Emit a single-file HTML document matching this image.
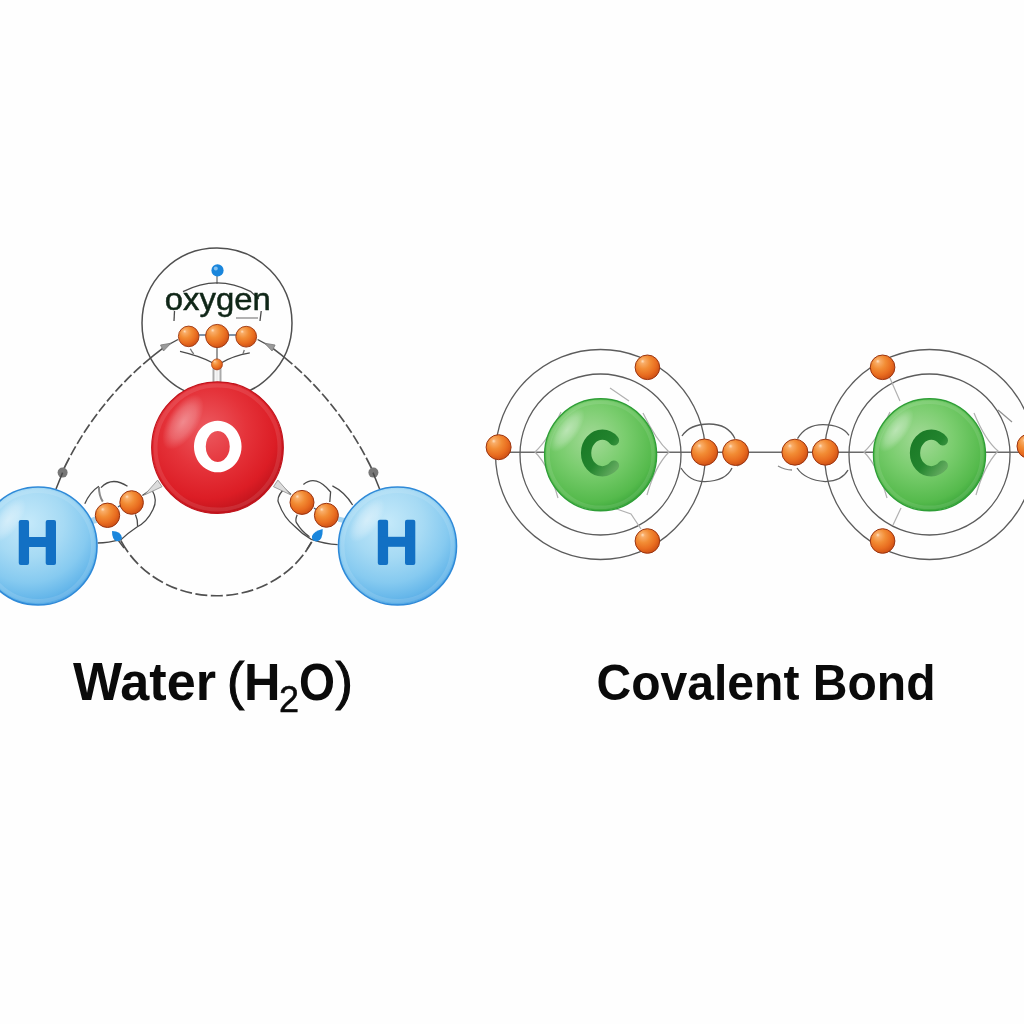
<!DOCTYPE html>
<html><head><meta charset="utf-8">
<style>
html,body{margin:0;padding:0;background:#fefefe;}
body{width:1024px;height:1024px;overflow:hidden;position:relative;font-family:"Liberation Sans",sans-serif;}
svg{position:absolute;left:0;top:0;will-change:transform;}
</style></head>
<body>
<svg width="1024" height="1024" viewBox="0 0 1024 1024">
<defs>
  <radialGradient id="gRed" cx="0.42" cy="0.36" r="0.66">
    <stop offset="0" stop-color="#ec5a60"/>
    <stop offset="0.45" stop-color="#e5333a"/>
    <stop offset="0.8" stop-color="#dc1d25"/>
    <stop offset="1" stop-color="#bd131b"/>
  </radialGradient>
  <radialGradient id="gBlue" cx="0.42" cy="0.3" r="0.75">
    <stop offset="0" stop-color="#c4e9fa"/>
    <stop offset="0.4" stop-color="#a6daf4"/>
    <stop offset="0.68" stop-color="#86caf0"/>
    <stop offset="0.86" stop-color="#66b7ea"/>
    <stop offset="1" stop-color="#4aa0e2"/>
  </radialGradient>
  <radialGradient id="gGreen" cx="0.42" cy="0.36" r="0.66">
    <stop offset="0" stop-color="#a4da98"/>
    <stop offset="0.45" stop-color="#7acd6e"/>
    <stop offset="0.85" stop-color="#55ba4c"/>
    <stop offset="1" stop-color="#3aa63a"/>
  </radialGradient>
  <radialGradient id="gOr" cx="0.4" cy="0.36" r="0.7" fx="0.3" fy="0.25">
    <stop offset="0" stop-color="#ffe0c0"/>
    <stop offset="0.12" stop-color="#f9ad68"/>
    <stop offset="0.4" stop-color="#f28c34"/>
    <stop offset="0.7" stop-color="#e96d20"/>
    <stop offset="1" stop-color="#c94a12"/>
  </radialGradient>
  <radialGradient id="gHi" cx="0.5" cy="0.5" r="0.5">
    <stop offset="0" stop-color="#fff" stop-opacity="0.45"/>
    <stop offset="0.6" stop-color="#fff" stop-opacity="0.25"/>
    <stop offset="1" stop-color="#fff" stop-opacity="0"/>
  </radialGradient>
  <linearGradient id="gCtxt" x1="0" y1="0" x2="1" y2="1">
    <stop offset="0" stop-color="#1a7a26"/>
    <stop offset="0.55" stop-color="#23842e"/>
    <stop offset="1" stop-color="#62aa5e"/>
  </linearGradient>
</defs>

<!-- ============ WATER ============ -->
<g fill="none" stroke="#505050" stroke-width="1.5">
  <circle cx="217" cy="323" r="75"/>
</g>
<g fill="none" stroke="#505050" stroke-width="1.7">
  <path d="M62.2 472.2 Q97.9 396.3 165.3 346.4" stroke-dasharray="16 3 10 3 10 3 10 3 10 3 10 3 10 3 10 3 10 3 10 3 40"/>
  <path d="M373.4 472.2 Q337.7 396.3 270.3 346.4" stroke-dasharray="16 3 10 3 10 3 10 3 10 3 10 3 10 3 10 3 10 3 10 3 40"/>
  <path d="M120.7 540.4 C160 614 272 614 312 541.5" stroke-dasharray="14 3.5 12 3.5 12 3.5 12 3.5 12 3.5 12 3.5 12 3.5 12 3.5 12 3.5 12 3.5 12 3.5 12 3.5 12 3.5 12 3.5 12 3.5 12 3.5 40"/>
</g>
<g fill="none" stroke="#4a4a4a" stroke-width="1.3">
  <path d="M165.3 346.4 L178 339.5"/>
  <path d="M270.3 346.4 L257.6 339.5"/>
</g>
<!-- arrow heads -->
<path d="M171 343.2 L160.5 345 L163.5 351 Z" fill="#9a9a9a" stroke="#777" stroke-width="0.8"/>
<path d="M264.6 343.2 L275.1 345 L272.1 351 Z" fill="#9a9a9a" stroke="#777" stroke-width="0.8"/>
<circle cx="62.6" cy="472.6" r="5" fill="#777"/>
<circle cx="373.4" cy="472.6" r="5" fill="#777"/>
<path d="M62.6 472.6 L56 489" stroke="#4a4a4a" stroke-width="1.5"/>
<path d="M373 472.6 L379.6 489" stroke="#4a4a4a" stroke-width="1.5"/>

<!-- oxygen label details -->
<g fill="none" stroke="#4a4a4a" stroke-width="1.3">
  <path d="M183 291.7 Q217 274 251 291.7 L258.8 299"/>
  <line x1="217" y1="276" x2="217" y2="284" stroke-width="1"/>
  <line x1="174.5" y1="311" x2="174" y2="321"/>
  <line x1="261.2" y1="311" x2="260" y2="321"/>
  <line x1="236" y1="318" x2="258" y2="318" stroke="#888"/>
  <line x1="199" y1="335" x2="206" y2="335" stroke="#3a5a7a"/>
  <line x1="229" y1="335" x2="236" y2="335" stroke="#3a5a7a"/>
  <line x1="217" y1="347" x2="217" y2="360" stroke="#666"/>
  <path d="M180 351.4 Q200 356 213 363"/>
  <path d="M249.8 352.8 Q232 356 221 363"/>
  <path d="M190.3 348.7 Q192 352 193.7 354" stroke="#777"/>
  <path d="M244.3 350 Q243.6 352 243 354" stroke="#777"/>
</g>
<path d="M213.5 368 L213.5 383 M220.5 368 L220.5 383" stroke="#aaa" stroke-width="2"/>
<line x1="217" y1="368" x2="217" y2="383" stroke="#eee" stroke-width="3"/>
<text x="217.8" y="310" text-anchor="middle" font-family="Liberation Sans" font-size="32" fill="#0f2617" stroke="#0f2617" stroke-width="0.5" textLength="106" lengthAdjust="spacingAndGlyphs">oxygen</text>
<circle cx="217.5" cy="270.4" r="6.1" fill="#1a86dc"/>
<circle cx="215.8" cy="268.6" r="2" fill="#9fd0f5" opacity="0.8"/>

<circle cx="188.7" cy="336.4" r="10.3" fill="url(#gOr)" stroke="#9a3410" stroke-width="0.9"/>
<circle cx="217.2" cy="336" r="11.6" fill="url(#gOr)" stroke="#9a3410" stroke-width="0.9"/>
<circle cx="246.2" cy="336.7" r="10.4" fill="url(#gOr)" stroke="#9a3410" stroke-width="0.9"/>
<circle cx="217" cy="364.4" r="5.5" fill="url(#gOr)" stroke="#a83c12" stroke-width="0.7"/>

<!-- bond detail lines (left) -->
<g fill="none" stroke="#4a4a4a" stroke-width="1.3">
  <path d="M84.8 503.8 Q90 492 98.9 486.3"/>
  <path d="M101 487.6 Q112 476 127.5 486.3"/>
  <path d="M98.9 487 Q99 496 102.8 501.6" stroke="#888" stroke-width="2"/>
  <path d="M142.4 495.5 L157.3 485.4"/>
  <path d="M152 490 Q158 500 153 509.5 Q147 522 137 527 Q128 533 121.3 539.4 Q108 543 97.6 543"/>
  <path d="M135.4 514.4 Q138 520 137.6 526"/>
  <path d="M118 507 L121 505" stroke="#3a5a7a"/>
</g>
<path d="M157.6 480.1 L162 486.7 L144.5 495 Z" fill="#dcdcdc" stroke="#8a8a8a" stroke-width="0.8"/>
<path d="M91 518 L96 516 L97 523 L92 524 Z" fill="#a8d4ee"/>
<!-- bond detail lines (right) -->
<g fill="none" stroke="#4a4a4a" stroke-width="1.3">
  <path d="M283 490 Q276 498 278.8 503.4 Q284 518 294.6 526.2 Q302 534 311.3 539.4 Q325 544 337.7 544.7"/>
  <path d="M303.4 484.5 Q316 474 330.6 492 L329.8 502"/>
  <path d="M332.4 485.8 Q345 492 352.6 505"/>
  <path d="M297.2 514.8 Q295 520 296.4 522.7 Q302 532 309.5 536.8"/>
  <path d="M314 508 L317 510" stroke="#3a5a7a"/>
  <path d="M279 484 L291 494.6"/>
  <path d="M311.3 542 L307 549"/>
  <path d="M118 540 L124 548"/>
</g>
<path d="M277.9 480.1 L273.5 486.7 L291 495 Z" fill="#dcdcdc" stroke="#8a8a8a" stroke-width="0.8"/>
<path d="M338.5 516.6 L344.7 518 L344 523 L338 521.8 Z" fill="#a8d4ee"/>

<!-- O atom -->
<circle cx="217.5" cy="447.6" r="65.8" fill="url(#gRed)" stroke="#c0141c" stroke-width="1.2"/>
<circle cx="217.5" cy="447.6" r="62" fill="none" stroke="#fff" stroke-opacity="0.1" stroke-width="4"/>
<ellipse cx="183" cy="422" rx="31" ry="15" transform="rotate(-58 183 422)" fill="url(#gHi)" opacity="0.85"/>
<path fill="#fff" fill-rule="evenodd" d="M217.75 420.8 a23.8 25.75 0 1 0 0.01 0 Z M217.75 431 a12 15.5 0 1 0 0.01 0 Z"/>

<!-- H atoms -->
<circle cx="38" cy="546" r="59" fill="url(#gBlue)" stroke="#2f8ad8" stroke-width="1.6"/>
<circle cx="38" cy="546" r="55" fill="none" stroke="#fff" stroke-opacity="0.12" stroke-width="4"/>
<ellipse cx="8" cy="520" rx="26" ry="12" transform="rotate(-54 8 520)" fill="url(#gHi)"/>
<g fill="#1270c4">
  <rect x="18.75" y="520" width="10.3" height="45" rx="2"/>
  <rect x="45.7" y="520" width="10.3" height="45" rx="2"/>
  <rect x="20" y="537" width="34" height="10"/>
</g>
<circle cx="397.5" cy="546" r="59" fill="url(#gBlue)" stroke="#2f8ad8" stroke-width="1.6"/>
<circle cx="397.5" cy="546" r="55" fill="none" stroke="#fff" stroke-opacity="0.12" stroke-width="4"/>
<ellipse cx="367" cy="520" rx="26" ry="12" transform="rotate(-54 367 520)" fill="url(#gHi)"/>
<g fill="#1270c4">
  <rect x="377.8" y="519.7" width="10.3" height="45.2" rx="2"/>
  <rect x="405" y="519.7" width="10.3" height="45.2" rx="2"/>
  <rect x="380" y="536.8" width="33" height="10"/>
</g>

<!-- water electrons -->
<circle cx="107.5" cy="515.3" r="12.2" fill="url(#gOr)" stroke="#9a3410" stroke-width="1"/>
<circle cx="131.6" cy="502.5" r="11.8" fill="url(#gOr)" stroke="#9a3410" stroke-width="1"/>
<circle cx="302" cy="502.4" r="12" fill="url(#gOr)" stroke="#9a3410" stroke-width="1"/>
<circle cx="326.4" cy="515.3" r="12" fill="url(#gOr)" stroke="#9a3410" stroke-width="1"/>
<path d="M112 531 Q121 531 122 538 Q120 542 116 541 Q112 539 112 531 Z" fill="#1a86dc"/>
<path d="M322.7 528.9 Q323 540 317 541.5 Q311 541 312 536 Q314 531 322.7 528.9 Z" fill="#1a86dc"/>


<!-- ============ CARBON ============ -->
<g fill="none" stroke="#5c5c5c" stroke-width="1.3">
  <line x1="498" y1="452.3" x2="1024" y2="452.3" stroke="#6a6a6a" stroke-width="1.6"/>
  <circle cx="600.5" cy="454.5" r="105"/>
  <circle cx="600.5" cy="454.5" r="80.5"/>
  <circle cx="929.5" cy="454.5" r="105"/>
  <circle cx="929.5" cy="454.5" r="80.5"/>
  <path d="M682 436 Q690 424 709 424 Q728 424 735 438.7"/>
  <path d="M681 468 Q690 482 705 481.6 Q726 481 732 468"/>
  <path d="M737 466 Q744 463 745 458" stroke="#888"/>
  <path d="M797.5 438.7 Q806 424.7 823 424.7 Q842 425 849 435.4"/>
  <path d="M797 468 Q805 480 825.4 481.6 Q842 481 848 470"/>
  <path d="M778 466 Q785 470 792 470" stroke="#888"/>
</g>
<!-- faint kite shapes -->
<g fill="none" stroke="#b0b0b0" stroke-width="1.2">
  <path d="M561 412 Q548 440 535 452 Q549 466 558 498"/>
  <path d="M643 413 Q656 440 669 452 Q655 466 647 495"/>
  <path d="M611 507 L631 514 L641 529"/>
  <path d="M610 388 L629 401"/>
  <path d="M890 412 Q877 440 864 452 Q878 466 887 498"/>
  <path d="M974 413 Q985 440 998 451 Q984 466 976 495"/>
  <path d="M889 376 L900 401"/>
  <path d="M901 508 L893 525"/>
  <path d="M998 410 L1012 422" stroke="#909090"/>
</g>
<circle cx="600.6" cy="454.8" r="56" fill="url(#gGreen)" stroke="#2e9e36" stroke-width="1.4"/>
<circle cx="600.6" cy="454.8" r="52.5" fill="none" stroke="#fff" stroke-opacity="0.1" stroke-width="3.5"/>
<ellipse cx="567" cy="430" rx="26" ry="11" transform="rotate(-54 567 430)" fill="url(#gHi)"/>
<path d="M613.95 440.29 A16.2 18.3 0 1 0 613.95 465.71" fill="none" stroke="url(#gCtxt)" stroke-width="10.3" stroke-linecap="round"/>
<circle cx="929.5" cy="454.8" r="56" fill="url(#gGreen)" stroke="#2e9e36" stroke-width="1.4"/>
<circle cx="929.5" cy="454.8" r="52.5" fill="none" stroke="#fff" stroke-opacity="0.1" stroke-width="3.5"/>
<ellipse cx="896" cy="430" rx="26" ry="11" transform="rotate(-54 896 430)" fill="url(#gHi)"/>
<path d="M942.85 440.29 A16.2 18.3 0 1 0 942.85 465.71" fill="none" stroke="url(#gCtxt)" stroke-width="10.3" stroke-linecap="round"/>

<g stroke="#9a3410" stroke-width="1">
<circle cx="647.4" cy="367.3" r="12.3" fill="url(#gOr)"/>
<circle cx="498.6" cy="447.2" r="12.5" fill="url(#gOr)"/>
<circle cx="647.4" cy="541" r="12.3" fill="url(#gOr)"/>
<circle cx="704.5" cy="452.2" r="13.2" fill="url(#gOr)"/>
<circle cx="735.6" cy="452.5" r="13" fill="url(#gOr)"/>
<circle cx="794.9" cy="452.2" r="13" fill="url(#gOr)"/>
<circle cx="825.4" cy="452.2" r="13" fill="url(#gOr)"/>
<circle cx="882.6" cy="367.3" r="12.3" fill="url(#gOr)"/>
<circle cx="882.6" cy="541" r="12.3" fill="url(#gOr)"/>
<circle cx="1029.3" cy="446.2" r="12.3" fill="url(#gOr)"/>
</g>

<!-- captions -->
<text x="73" y="700" font-family="Liberation Sans" font-weight="bold" font-size="53" fill="#0a0a0a" textLength="143" lengthAdjust="spacingAndGlyphs">Water</text>
<text x="227" y="699" font-family="Liberation Sans" font-size="52" fill="#0a0a0a" stroke="#0a0a0a" stroke-width="1.1">(</text>
<text x="244" y="700" font-family="Liberation Sans" font-weight="bold" font-size="52" fill="#0a0a0a" textLength="36.5" lengthAdjust="spacingAndGlyphs">H</text>
<text x="279" y="711.5" font-family="Liberation Sans" font-size="36" fill="#0a0a0a" stroke="#0a0a0a" stroke-width="0.5">2</text>
<text x="299" y="700" font-family="Liberation Sans" font-weight="bold" font-size="52" fill="#0a0a0a" textLength="36" lengthAdjust="spacingAndGlyphs">O</text>
<text x="335.5" y="699" font-family="Liberation Sans" font-size="52" fill="#0a0a0a" stroke="#0a0a0a" stroke-width="1.1">)</text>
<text x="596.5" y="699.5" font-family="Liberation Sans" font-weight="bold" font-size="49.5" fill="#0a0a0a" textLength="339" lengthAdjust="spacingAndGlyphs">Covalent Bond</text>
</svg>
</body></html>
